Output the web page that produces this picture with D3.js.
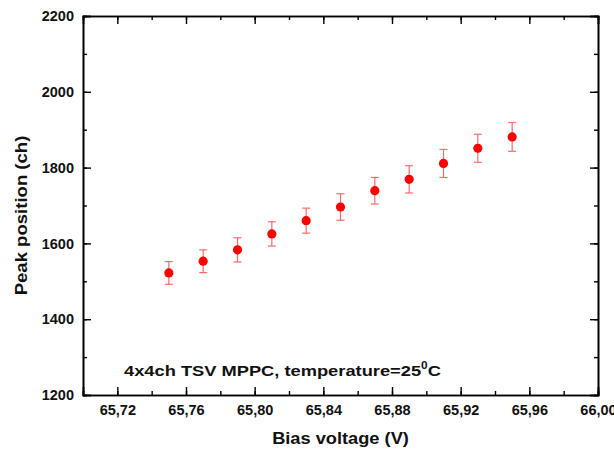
<!DOCTYPE html>
<html>
<head>
<meta charset="utf-8">
<script src="https://cdn.jsdelivr.net/npm/d3@7"></script>
<style>
  body { margin: 0; background: #fff; }
  text { font-family: "Liberation Sans", Arial, sans-serif; font-weight: bold; }
</style>
</head>
<body>
<div id="chart"></div>
<script>
// data
var biasVoltage = [65.75, 65.77, 65.79, 65.81, 65.83, 65.85, 65.87, 65.89, 65.91, 65.93, 65.95];
var peakPosition = [1522, 1553, 1583, 1625, 1660, 1696, 1739, 1769, 1811, 1851, 1881];
var peakError = [30, 30, 32, 32, 33, 35, 35, 36, 37, 37, 38];
var xTicks = [65.72, 65.76, 65.80, 65.84, 65.88, 65.92, 65.96, 66.00];
var yTicks = [1200, 1400, 1600, 1800, 2000, 2200];

var W = 614, H = 450;
var margin = {top: 16, right: 16, bottom: 55, left: 83},
    width = 598 - margin.left,
    height = 395 - margin.top;

var x = d3.scaleLinear().domain([65.70, 66.00]).range([0, width]);
var y = d3.scaleLinear().domain([1200, 2200]).range([height, 0]);

var svg = d3.select("#chart")
    .append("svg")
        .attr("width", W)
        .attr("height", H)
    .append("g")
        .attr("transform", "translate(" + margin.left + "," + margin.top + ")");

var comma = d3.formatLocale({decimal: ",", thousands: ".", grouping: [3], currency: ["", ""]});
var xFmt = comma.format(".2f");

var xMinor = d3.range(65.70, 66.001, 0.02).map(function(v) { return +v.toFixed(2); });
var yMinor = d3.range(1200, 2201, 100);

// Axes (ticks point inward)
function styleAxis(g) {
    g.selectAll("path").attr("stroke", "#000").attr("stroke-width", 1.6);
    g.selectAll("line").attr("stroke", "#000").attr("stroke-width", 1.4);
    g.selectAll("text").style("font-size", "14.5px").attr("fill", "#111");
}

// minor ticks
svg.append("g")
    .attr("transform", "translate(0," + height + ")")
    .call(d3.axisBottom(x).tickValues(xMinor).tickSize(-4).tickFormat(""))
    .call(styleAxis);
svg.append("g")
    .call(d3.axisTop(x).tickValues(xMinor).tickSize(-4).tickFormat(""))
    .call(styleAxis);
svg.append("g")
    .call(d3.axisLeft(y).tickValues(yMinor).tickSize(-4).tickFormat(""))
    .call(styleAxis);
svg.append("g")
    .attr("transform", "translate(" + width + ",0)")
    .call(d3.axisRight(y).tickValues(yMinor).tickSize(-4).tickFormat(""))
    .call(styleAxis);

// major ticks
svg.append("g")
    .attr("transform", "translate(0," + height + ")")
    .call(d3.axisBottom(x).tickValues(xTicks).tickSize(-8).tickPadding(10).tickFormat(xFmt))
    .call(styleAxis);
svg.append("g")
    .call(d3.axisTop(x).tickValues(xTicks).tickSize(-8).tickFormat(""))
    .call(styleAxis);
svg.append("g")
    .call(d3.axisLeft(y).tickValues(yTicks).tickSize(-8).tickPadding(9).tickFormat(d3.format("d")))
    .call(styleAxis);
svg.append("g")
    .attr("transform", "translate(" + width + ",0)")
    .call(d3.axisRight(y).tickValues(yTicks).tickSize(-8).tickFormat(""))
    .call(styleAxis);

// Error bars
var pts = biasVoltage.map(function(v, i) {
    return {x: v, y: peakPosition[i], e: peakError[i]};
});

var err = svg.append("g")
    .attr("stroke", "#ff6b6b")
    .attr("stroke-width", 1.2);

pts.forEach(function(d) {
    var cx = x(d.x);
    err.append("line").attr("x1", cx).attr("x2", cx)
        .attr("y1", y(d.y + d.e)).attr("y2", y(d.y - d.e));
    err.append("line").attr("x1", cx - 4).attr("x2", cx + 4)
        .attr("y1", y(d.y + d.e)).attr("y2", y(d.y + d.e));
    err.append("line").attr("x1", cx - 4).attr("x2", cx + 4)
        .attr("y1", y(d.y - d.e)).attr("y2", y(d.y - d.e));
});

svg.selectAll("circle.pt")
    .data(pts)
    .join("circle")
        .attr("class", "pt")
        .attr("cx", function(d) { return x(d.x); })
        .attr("cy", function(d) { return y(d.y); })
        .attr("r", 4.6)
        .attr("fill", "#ff0000");

// Annotation (the original lettering is a bit wider than it is tall)
var note = svg.append("text")
    .attr("transform", "translate(41,360) scale(1.18,1)")
    .style("font-size", "15.5px")
    .attr("fill", "#111");
note.append("tspan").text("4x4ch TSV MPPC, temperature=25");
note.append("tspan").attr("dy", -7).style("font-size", "10px").text("0");
note.append("tspan").attr("dy", 7).text("C");

// Axis labels
svg.append("text")
    .attr("text-anchor", "middle")
    .attr("transform", "translate(" + (width / 2) + "," + (height + 49) + ") scale(1.14,1)")
    .style("font-size", "16px")
    .attr("fill", "#111")
    .text("Bias voltage (V)");

svg.append("text")
    .attr("text-anchor", "middle")
    .attr("transform", "translate(-56," + (height / 2 + 10) + ") rotate(-90) scale(1.16,1)")
    .style("font-size", "16px")
    .attr("fill", "#111")
    .text("Peak position (ch)");
</script>
</body>
</html>
